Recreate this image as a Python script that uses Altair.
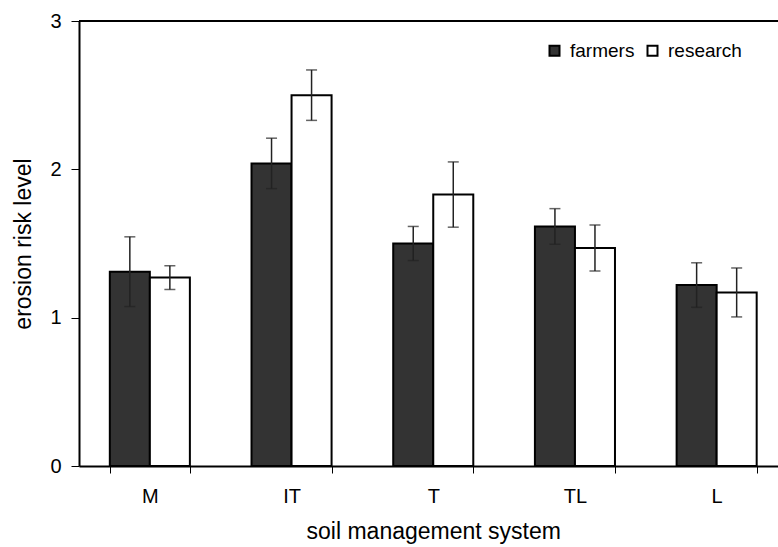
import altair as alt
import pandas as pd

# Soil management systems and the mean erosion risk level given by each group
systems = ["M", "IT", "T", "TL", "L"]
groups = ["farmers", "research"]
farmers_mean = [1.31, 2.04, 1.50, 1.615, 1.22]
farmers_err = [0.235, 0.17, 0.115, 0.12, 0.15]
research_mean = [1.27, 2.50, 1.83, 1.47, 1.17]
research_err = [0.08, 0.17, 0.22, 0.155, 0.165]

rows = []
for i, s in enumerate(systems):
    for g, m, e in (("farmers", farmers_mean[i], farmers_err[i]),
                    ("research", research_mean[i], research_err[i])):
        rows.append({"system": s, "group": g, "mean": m,
                     "lo": m - e, "hi": m + e})
df = pd.DataFrame(rows)

FONT = "Liberation Sans"
PLOT_W = 699
PLOT_H = 445

x_enc = alt.X(
    "system:N",
    sort=systems,
    scale=alt.Scale(range=[0, 708.5], paddingInner=0.435, paddingOuter=0.2175),
    axis=alt.Axis(
        title="soil management system",
        tickBand="extent",
        labelAngle=0,
        tickSize=7,
        tickWidth=1,
        labelPadding=13,
        titlePadding=14,
    ),
)
off_enc = alt.XOffset("group:N", sort=groups,
                      scale=alt.Scale(paddingInner=0, paddingOuter=0))
y_scale = alt.Scale(domain=[0, 3], nice=False)

bars = alt.Chart(df).mark_bar(stroke="black", strokeWidth=2).encode(
    x=x_enc,
    xOffset=off_enc,
    y=alt.Y(
        "mean:Q",
        scale=y_scale,
        axis=alt.Axis(
            title="erosion risk level",
            values=[0, 1, 2, 3],
            format="d",
            grid=False,
            tickSize=8,
            tickWidth=1,
            labelPadding=10,
            titlePadding=14,
        ),
    ),
    fill=alt.Fill(
        "group:N",
        sort=groups,
        scale=alt.Scale(domain=groups, range=["#333333", "#ffffff"]),
        legend=alt.Legend(
            title=None,
            orient="none",
            legendX=466,
            legendY=20,
            direction="horizontal",
            symbolType="square",
            symbolSize=100,
            symbolStrokeColor="black",
            symbolStrokeWidth=2,
            labelFont=FONT,
            labelFontSize=19,
            labelColor="black",
            labelOffset=6,
            columnPadding=8,
            padding=0,
        ),
    ),
)

whisker = alt.Chart(df).mark_rule(color="#222222", strokeWidth=1.5).encode(
    x=alt.X("system:N", sort=systems),
    xOffset=off_enc,
    y=alt.Y("lo:Q", scale=y_scale),
    y2="hi:Q",
)

cap_lo = alt.Chart(df).mark_tick(color="#222222", thickness=1.5, size=11).encode(
    x=alt.X("system:N", sort=systems),
    xOffset=off_enc,
    y=alt.Y("lo:Q", scale=y_scale),
)
cap_hi = alt.Chart(df).mark_tick(color="#222222", thickness=1.5, size=11).encode(
    x=alt.X("system:N", sort=systems),
    xOffset=off_enc,
    y=alt.Y("hi:Q", scale=y_scale),
)

top_line = alt.Chart(df).mark_rule(color="black", strokeWidth=2).encode(
    y=alt.datum(3, scale=y_scale)
)

chart = (
    alt.layer(bars, whisker, cap_lo, cap_hi, top_line)
    .properties(
        width=PLOT_W,
        height=PLOT_H,
        autosize=alt.AutoSizeParams(type="none"),
        padding={"left": 79, "top": 21, "right": 0, "bottom": 81},
        background="white",
    )
    .configure_view(stroke=None)
    .configure_axis(
        domainColor="black",
        domainWidth=2,
        tickColor="black",
        labelColor="black",
        titleColor="black",
        labelFont=FONT,
        titleFont=FONT,
        labelFontSize=20,
        titleFontSize=23,
        titleFontWeight="normal",
    )
)

chart.save("out.html", embed_options={"renderer": "svg", "actions": False})
